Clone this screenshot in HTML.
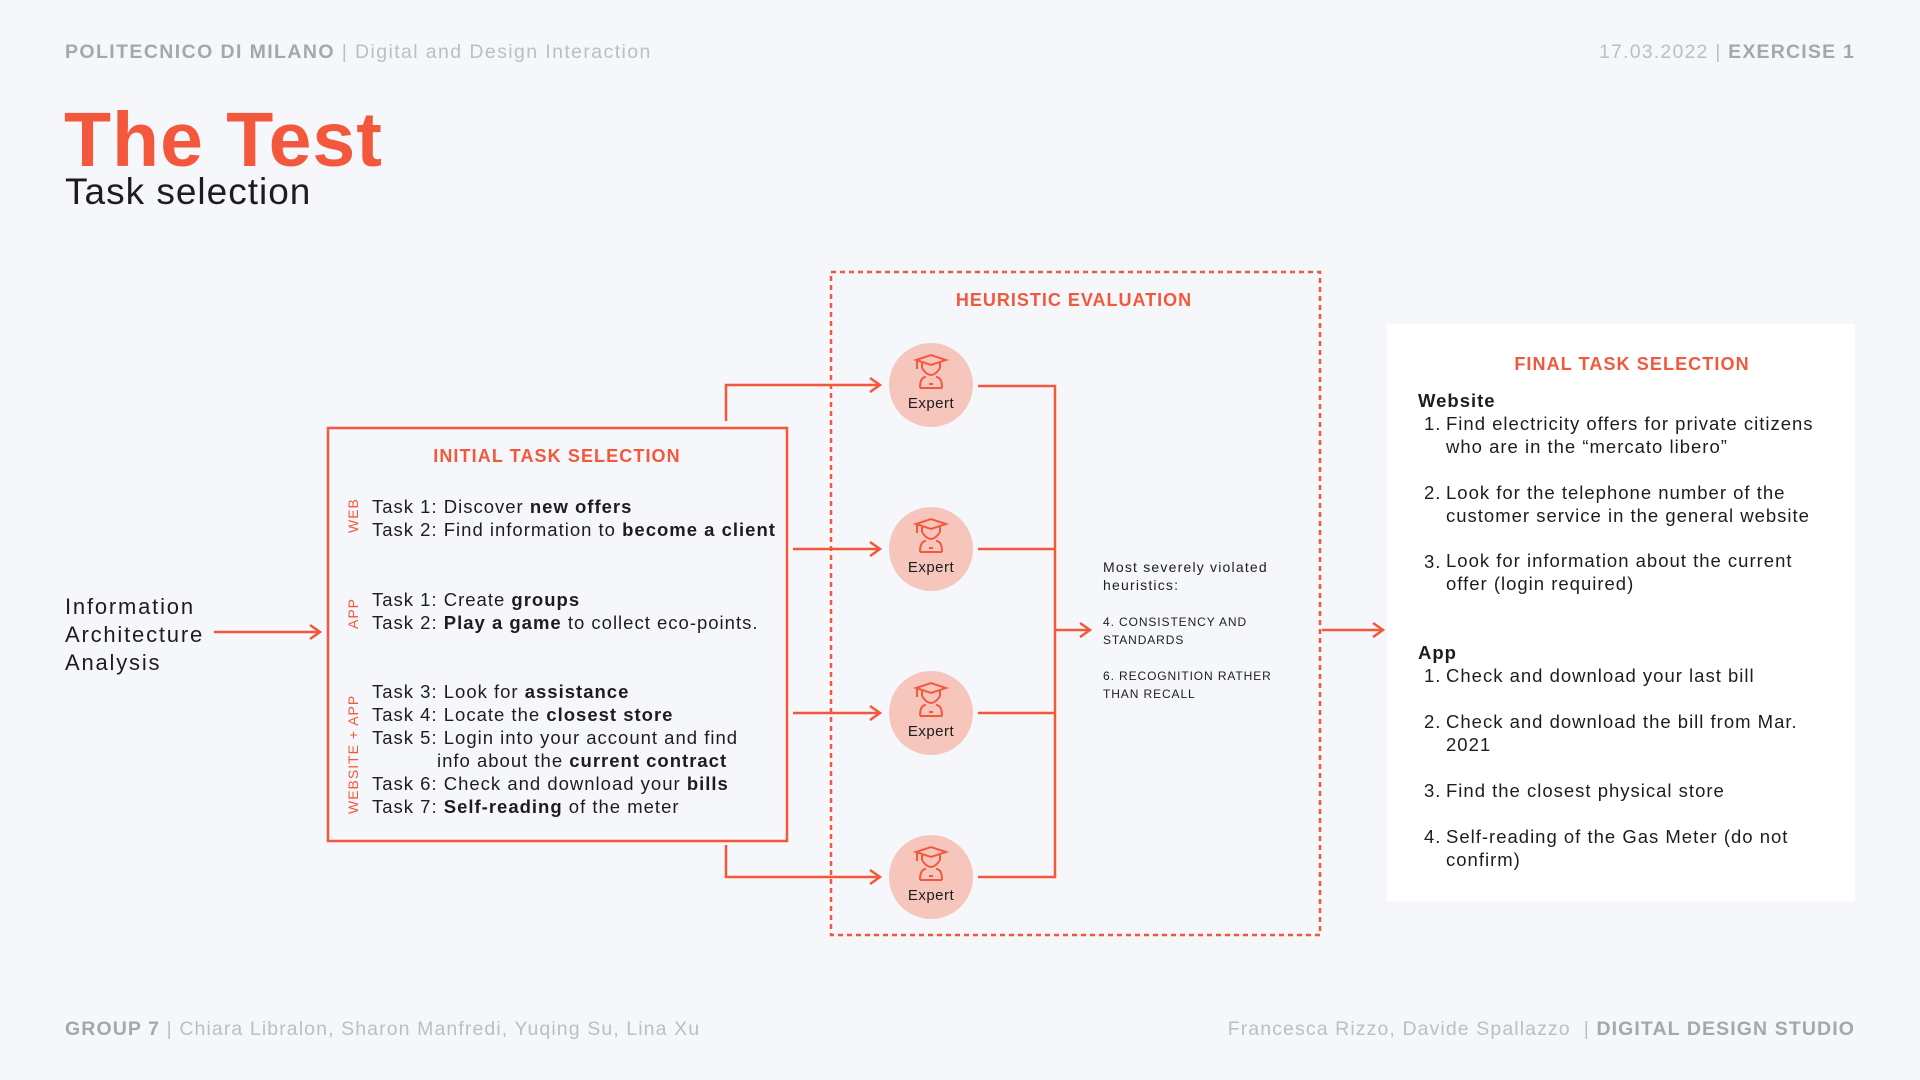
<!DOCTYPE html>
<html><head><meta charset="utf-8"><style>
*{margin:0;padding:0;box-sizing:border-box}
body{width:1920px;height:1080px;background:#f5f7fa;position:relative;overflow:hidden;font-family:"Liberation Sans",sans-serif;color:#1d1d1d}
.t{position:absolute;white-space:nowrap}
.o{color:#f4583c}
.g{color:#a3a9ab}
.lg{color:#babfc2}
b{font-weight:bold}
.task{font-size:18.5px;line-height:23px;left:372px;letter-spacing:1px}
.fl{font-size:18.5px;line-height:23px;letter-spacing:1px}
</style></head><body>
<div class="t" style="left:65px;top:41px;font-size:19.5px;line-height:22px;letter-spacing:1.4px"><b class="g">POLITECNICO DI MILANO</b><span class="lg"> | Digital and Design Interaction</span></div>
<div class="t" style="right:65px;top:41px;font-size:19.5px;line-height:22px;letter-spacing:1.2px"><span class="lg">17.03.2022 | </span><b class="g">EXERCISE 1</b></div>
<div class="t o" style="left:64px;top:100px;font-size:77px;line-height:80px;font-weight:bold;letter-spacing:1px">The Test</div>
<div class="t" style="left:65px;top:171px;font-size:37px;line-height:42px;letter-spacing:1px">Task selection</div>

<svg width="1920" height="1080" style="position:absolute;left:0;top:0">
<defs><marker id="a" markerWidth="14" markerHeight="16" refX="12" refY="8" orient="auto" markerUnits="userSpaceOnUse"><path d="M2,1 L12,8 L2,15" fill="none" stroke="#f4583c" stroke-width="2.5"/></marker></defs>
<rect x="831" y="272" width="489" height="663" fill="none" stroke="#f4583c" stroke-width="2.5" stroke-dasharray="5,4"/>
<rect x="328" y="428" width="459" height="413" fill="none" stroke="#f4583c" stroke-width="2.5"/>
<rect x="1387" y="324" width="468" height="577" fill="#fff"/>
<g stroke="#f4583c" stroke-width="2.5" fill="none">
<path d="M726,421 V385 H880" marker-end="url(#a)"/>
<path d="M793,549 H880" marker-end="url(#a)"/>
<path d="M793,713 H880" marker-end="url(#a)"/>
<path d="M726,845 V877 H880" marker-end="url(#a)"/>
<path d="M978,386 H1055 V877 H978 M978,549 H1055 M978,713 H1055"/>
<path d="M1055,630 H1090" marker-end="url(#a)"/>
<path d="M1322,630 H1383" marker-end="url(#a)"/>
<path d="M214,632 H320" marker-end="url(#a)"/>
</g>
<g>
<ellipse cx="931" cy="385" rx="42" ry="42" fill="#f6c6bd"/>
<ellipse cx="931" cy="549" rx="42" ry="42" fill="#f6c6bd"/>
<ellipse cx="931" cy="713" rx="42" ry="42" fill="#f6c6bd"/>
<ellipse cx="931" cy="877" rx="42" ry="42" fill="#f6c6bd"/>
</g>
<g id="ic" stroke="#f4583c" stroke-width="2" fill="none">
<path d="M916,360 L931,355 L946,360 L931,365 Z M922,363 V368 M940,363 V368 M922,368 Q931,382 940,368 M920,388 Q920,377 926,377 M942,388 Q942,377 936,377 M920,388 H942 M929,384 H933 M917,361 V369"/>
</g>
<use href="#ic" y="164"/><use href="#ic" y="328"/><use href="#ic" y="492"/>
</svg>

<div class="t" style="left:891px;top:395px;font-size:15px;width:80px;text-align:center;letter-spacing:0.5px">Expert</div>
<div class="t" style="left:891px;top:559px;font-size:15px;width:80px;text-align:center;letter-spacing:0.5px">Expert</div>
<div class="t" style="left:891px;top:723px;font-size:15px;width:80px;text-align:center;letter-spacing:0.5px">Expert</div>
<div class="t" style="left:891px;top:887px;font-size:15px;width:80px;text-align:center;letter-spacing:0.5px">Expert</div>

<div class="t o" style="left:874px;top:290px;width:400px;text-align:center;font-size:18px;font-weight:bold;letter-spacing:1px">HEURISTIC EVALUATION</div>
<div class="t" style="left:1103px;top:558px;font-size:14px;line-height:18px;letter-spacing:1.2px">Most severely violated<br>heuristics:</div>
<div class="t" style="left:1103px;top:613px;font-size:12px;line-height:18px;letter-spacing:0.9px">4. CONSISTENCY AND<br>STANDARDS</div>
<div class="t" style="left:1103px;top:667px;font-size:12px;line-height:18px;letter-spacing:0.9px">6. RECOGNITION RATHER<br>THAN RECALL</div>

<div class="t" style="left:65px;top:593px;font-size:22px;line-height:28px;letter-spacing:1.8px">Information<br>Architecture<br>Analysis</div>

<div class="t o" style="left:357px;top:446px;width:400px;text-align:center;font-size:18px;font-weight:bold;letter-spacing:1.1px">INITIAL TASK SELECTION</div>
<div class="t o" style="left:345px;top:533px;font-size:14px;transform:rotate(-90deg);transform-origin:left top;letter-spacing:1px">WEB</div>
<div class="t o" style="left:345px;top:629px;font-size:14px;transform:rotate(-90deg);transform-origin:left top;letter-spacing:1px">APP</div>
<div class="t o" style="left:345px;top:814px;font-size:14px;transform:rotate(-90deg);transform-origin:left top;letter-spacing:1px">WEBSITE + APP</div>
<div class="t task" style="top:495px">Task 1: Discover <b>new offers</b><br>Task 2: Find information to <b>become a client</b></div>
<div class="t task" style="top:588px">Task 1: Create <b>groups</b><br>Task 2: <b>Play a game</b> to collect eco-points.</div>
<div class="t task" style="top:680px">Task 3: Look for <b>assistance</b><br>Task 4: Locate the <b>closest store</b><br>Task 5: Login into your account and find<br><span style="padding-left:65px">info about the <b>current contract</b></span><br>Task 6: Check and download your <b>bills</b><br>Task 7: <b>Self-reading</b> of the meter</div>

<div class="t o" style="left:1432px;top:354px;width:400px;text-align:center;font-size:18px;font-weight:bold;letter-spacing:1.1px">FINAL TASK SELECTION</div>
<div class="t fl" style="left:1418px;top:389px"><b>Website</b></div>
<div class="t fl" style="left:1424px;top:412px">1.<br><br><br>2.<br><br><br>3.</div>
<div class="t fl" style="left:1446px;top:412px">Find electricity offers for private citizens<br>who are in the “mercato libero”</div>
<div class="t fl" style="left:1446px;top:481px">Look for the telephone number of the<br>customer service in the general website</div>
<div class="t fl" style="left:1446px;top:549px">Look for information about the current<br>offer (login required)</div>
<div class="t fl" style="left:1418px;top:641px"><b>App</b></div>
<div class="t fl" style="left:1424px;top:664px">1.</div><div class="t fl" style="left:1446px;top:664px">Check and download your last bill</div>
<div class="t fl" style="left:1424px;top:710px">2.</div><div class="t fl" style="left:1446px;top:710px">Check and download the bill from Mar.<br>2021</div>
<div class="t fl" style="left:1424px;top:779px">3.</div><div class="t fl" style="left:1446px;top:779px">Find the closest physical store</div>
<div class="t fl" style="left:1424px;top:825px">4.</div><div class="t fl" style="left:1446px;top:825px">Self-reading of the Gas Meter (do not<br>confirm)</div>

<div class="t" style="left:65px;top:1018px;font-size:19.5px;line-height:22px;letter-spacing:1.1px"><b class="g">GROUP 7</b><span class="lg"> | Chiara Libralon, Sharon Manfredi, Yuqing Su, Lina Xu</span></div>
<div class="t" style="right:65px;top:1018px;font-size:19.5px;line-height:22px;letter-spacing:1.1px"><span class="lg">Francesca Rizzo, Davide Spallazzo &nbsp;| </span><b class="g">DIGITAL DESIGN STUDIO</b></div>
</body></html>
